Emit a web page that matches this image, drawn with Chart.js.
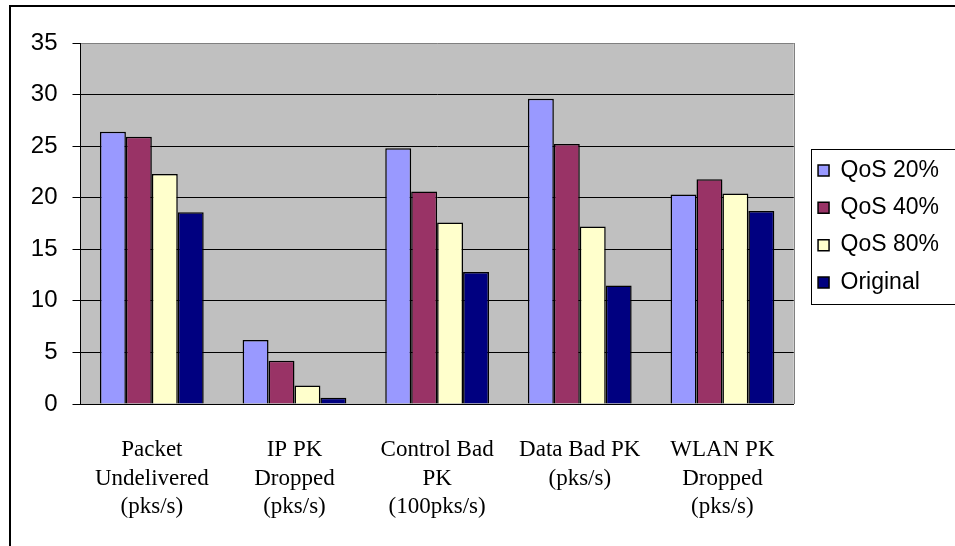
<!DOCTYPE html>
<html>
<head>
<meta charset="utf-8">
<script src="https://cdn.jsdelivr.net/npm/chart.js@4.4.1/dist/chart.umd.min.js"></script>
<style>
  html, body { margin: 0; padding: 0; background: #fff; }
  #wrap { position: relative; width: 955px; height: 546px; overflow: hidden; }
  #frame { position: absolute; left: 9px; top: 5px; width: 2000px; height: 2000px;
           border-left: 2px solid #000; border-top: 2px solid #000; }
  #chart { position: absolute; left: 0; top: 0; }
</style>
</head>
<body>
<div id="wrap">
  <div id="frame"></div>
  <canvas id="chart" width="955" height="546"></canvas>
</div>
<script>
const categories = [
  ['Packet', 'Undelivered', '(pks/s)'],
  ['IP PK', 'Dropped', '(pks/s)'],
  ['Control Bad', 'PK', '(100pks/s)'],
  ['Data Bad PK', '(pks/s)'],
  ['WLAN PK', 'Dropped', '(pks/s)']
];
const seriesNames = ['QoS 20%', 'QoS 40%', 'QoS 80%', 'Original'];
const qos20 = [26.4, 6.2, 24.8, 29.6, 20.3];
const qos40 = [25.9, 4.2, 20.6, 25.2, 21.8];
const qos80 = [22.3, 1.8, 17.6, 17.2, 20.4];
const original = [18.6, 0.6, 12.8, 11.5, 18.7];
const yTicks = [0, 5, 10, 15, 20, 25, 30, 35];

const colors = ['#9999ff', '#993366', '#ffffcc', '#000080'];
const values = [qos20, qos40, qos80, original];

// grey plot area + legend frame, like the old Excel look
const excelLook = {
  id: 'excelLook',
  beforeDraw(chart) {
    const a = chart.chartArea;
    const ctx = chart.ctx;
    ctx.save();
    ctx.fillStyle = '#c0c0c0';
    ctx.fillRect(a.left, a.top, a.right - a.left, a.bottom - a.top);
    ctx.strokeStyle = '#808080';
    ctx.lineWidth = 1;
    ctx.beginPath();
    ctx.moveTo(Math.round(a.right) + 0.5, a.top);
    ctx.lineTo(Math.round(a.right) + 0.5, a.bottom);
    ctx.stroke();
    ctx.restore();
  },
  afterDraw(chart) {
    const lg = chart.legend;
    const boxes = lg.legendHitBoxes;
    if (!boxes || !boxes.length) return;
    const top = boxes[0].top - 10;
    const last = boxes[boxes.length - 1];
    const bottom = last.top + last.height + 10;
    const ctx = chart.ctx;
    ctx.save();
    ctx.strokeStyle = '#000';
    ctx.lineWidth = 1;
    ctx.strokeRect(Math.round(lg.left + 7) + 0.5, Math.round(top) + 0.5, chart.width, Math.round(bottom - top));
    ctx.restore();
  }
};

const ctx = document.getElementById('chart').getContext('2d');
new Chart(ctx, {
  type: 'bar',
  data: {
    labels: categories,
    datasets: seriesNames.map((name, i) => ({
      label: name,
      data: values[i],
      backgroundColor: colors[i],
      borderColor: '#000',
      borderWidth: 1.5,
      barPercentage: 1,
      categoryPercentage: 4 / 5.5
    }))
  },
  options: {
    responsive: false,
    animation: false,
    devicePixelRatio: 1,
    layout: { padding: { top: 43, right: 6, bottom: 0, left: 0 } },
    scales: {
      x: {
        grid: { display: false, drawTicks: false },
        border: { display: true, color: '#000', width: 1 },
        ticks: {
          color: '#000',
          padding: 31,
          maxRotation: 0,
          autoSkip: false,
          font: { family: '"Liberation Serif", "Times New Roman", serif', size: 23, lineHeight: 1.26 }
        },
        afterFit(s) { s.height = 142; }
      },
      y: {
        min: 0,
        max: 35,
        afterBuildTicks(s) { s.ticks = yTicks.map(v => ({ value: v })); },
        grid: {
          color: c => (c.tick && c.tick.value === 35) ? '#808080' : '#000',
          tickColor: '#000',
          tickLength: 8,
          lineWidth: 1
        },
        border: { display: true, color: '#000', width: 1 },
        ticks: {
          color: '#000',
          padding: 15,
          font: { family: '"Liberation Sans", Arial, sans-serif', size: 24 }
        },
        afterFit(s) { s.width = 80.5; }
      },
      gap: {
        type: 'linear',
        position: 'right',
        display: true,
        grid: { display: false, drawTicks: false },
        border: { display: false },
        ticks: { display: false },
        afterFit(s) { s.width = 10; }
      }
    },
    plugins: {
      legend: {
        position: 'right',
        fullSize: false,
        align: 'center',
        title: { display: true, text: '', padding: 0, font: { size: 5, lineHeight: 1.2 } },
        labels: {
          color: '#000',
          boxWidth: 11,
          boxHeight: 11,
          padding: 14.3,
          font: { family: '"Liberation Sans", Arial, sans-serif', size: 23 }
        }
      },
      tooltip: { enabled: false }
    }
  },
  plugins: [excelLook]
});
</script>
</body>
</html>
